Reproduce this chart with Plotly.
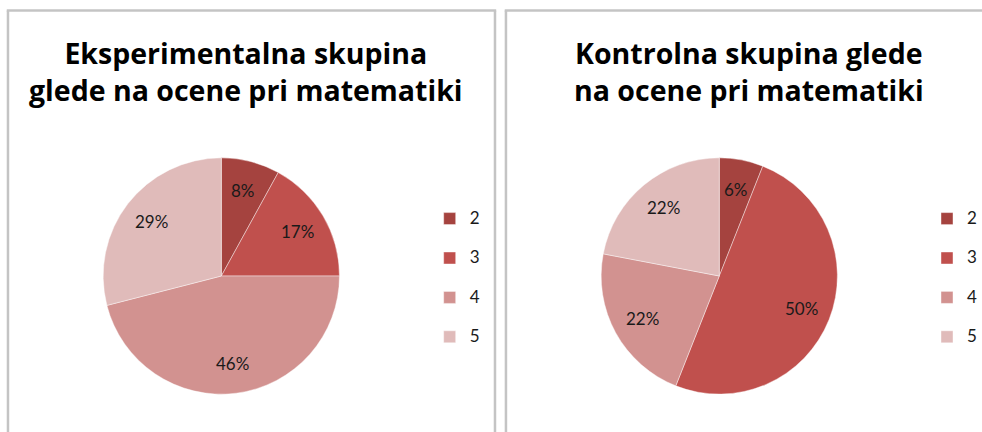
import numpy as np
import plotly.graph_objects as go

W, H = 982, 432

categories = ["2", "3", "4", "5"]
exp_values = [8, 17, 46, 29]
ctrl_values = [6, 50, 22, 22]
colors = ["#A5433F", "#C0504D", "#D29290", "#E0BBBA"]

title_left = "Eksperimentalna skupina<br>glede na ocene pri matematiki"
title_right = "Kontrolna skupina glede<br>na ocene pri matematiki"

FONT = "Lato"
TITLE_FONT = "Open Sans"

def px_x(v):
    return v / W

def px_y(v):
    return 1 - v / H

def legend_labels(suffix):
    return [f"<span style='font-size:17px'>{c}</span><br>\u00a0{suffix}" for c in categories]

PIE_R = 118.5
PIE_CY = 276
LEFT_CX = 222
RIGHT_CX = 721.5
LABEL_FRAC = 0.745

def pie(values, cx, labels, legend):
    return go.Pie(
        labels=labels,
        values=values,
        sort=False,
        direction="clockwise",
        rotation=0,
        marker=dict(colors=colors, line=dict(color="rgba(255,255,255,0.7)", width=0.6)),
        textinfo="none",
        domain=dict(x=[px_x(cx - PIE_R), px_x(cx + PIE_R)],
                    y=[px_y(PIE_CY + PIE_R), px_y(PIE_CY - PIE_R)]),
        legend=legend,
        hoverinfo="label+percent",
    )

def pct_labels(values, cx):
    v = np.asarray(values, dtype=float)
    frac = v / v.sum()
    mid = (np.cumsum(frac) - frac / 2) * 2 * np.pi
    anns = []
    for f, a in zip(frac, mid):
        x = cx + LABEL_FRAC * PIE_R * np.sin(a)
        y = PIE_CY - LABEL_FRAC * PIE_R * np.cos(a)
        anns.append(dict(text=f"{round(f * 100):.0f}%", x=px_x(x), y=px_y(y),
                         xref="paper", yref="paper", xanchor="center", yanchor="middle",
                         showarrow=False,
                         font=dict(family=FONT, size=17, color="#1a1a1a")))
    return anns

fig = go.Figure()
fig.add_trace(pie(exp_values, LEFT_CX, legend_labels(""), "legend"))
fig.add_trace(pie(ctrl_values, RIGHT_CX, legend_labels("\u200b"), "legend2"))

legend_common = dict(
    font=dict(family=FONT, size=14, color="#1a1a1a"),
    valign="top",
    bgcolor="rgba(0,0,0,0)",
    xanchor="left",
    yanchor="top",
    orientation="v",
)

title_font = dict(family=TITLE_FONT, size=28.5, color="#000000", weight="bold")

annotations = [
    dict(text=title_left, x=px_x(247), y=px_y(72), xref="paper", yref="paper",
         xanchor="center", yanchor="middle", showarrow=False, font=title_font),
    dict(text=title_right, x=px_x(751), y=px_y(72), xref="paper", yref="paper",
         xanchor="center", yanchor="middle", showarrow=False, font=title_font),
]
annotations += pct_labels(exp_values, LEFT_CX)
annotations += pct_labels(ctrl_values, RIGHT_CX)

border = dict(color="#C4C4C4", width=2.5)

fig.update_layout(
    width=W,
    height=H,
    margin=dict(l=0, r=0, t=0, b=0),
    paper_bgcolor="white",
    plot_bgcolor="white",
    showlegend=True,
    legend=dict(x=px_x(431), y=px_y(203), **legend_common),
    legend2=dict(x=px_x(930), y=px_y(203), **legend_common),
    annotations=annotations,
    shapes=[
        dict(type="line", xref="paper", yref="paper", x0=px_x(8), x1=px_x(8), y0=px_y(10.5), y1=px_y(440), line=border),
        dict(type="line", xref="paper", yref="paper", x0=px_x(6.8), x1=px_x(497.7), y0=px_y(10.5), y1=px_y(10.5), line=border),
        dict(type="line", xref="paper", yref="paper", x0=px_x(496.5), x1=px_x(496.5), y0=px_y(10.5), y1=px_y(440), line=border),
        dict(type="line", xref="paper", yref="paper", x0=px_x(507.5), x1=px_x(507.5), y0=px_y(10.5), y1=px_y(440), line=border),
        dict(type="line", xref="paper", yref="paper", x0=px_x(506.3), x1=px_x(990), y0=px_y(10.5), y1=px_y(10.5), line=border),
    ],
)

fig.write_html("out.html")
